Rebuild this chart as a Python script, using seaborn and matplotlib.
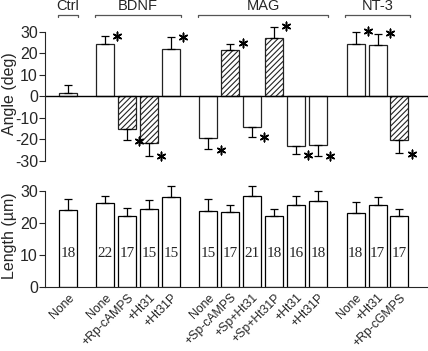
import numpy as np
import pandas as pd
import matplotlib
matplotlib.use("Agg")
import matplotlib.pyplot as plt
import seaborn as sns

groups = ["Ctrl", "BDNF", "MAG", "NT-3"]
group_sizes = [1, 4, 6, 3]
conditions = ["None",
              "None", "+Rp-cAMPS", "+Ht31", "+Ht31P",
              "None", "+Sp-cAMPS", "+Sp+Ht31", "+Sp+Ht31P", "+Ht31", "+Ht31P",
              "None", "+Ht31", "+Rp-cGMPS"]
angle = [1.7, 24.5, -15, -21.5, 22, -19.5, 21.5, -14, 27, -23, -22.5, 24.5, 24, -20.5]
angle_sem = [3.5, 3.5, 5.5, 6, 5.5, 5, 3, 4.7, 5.5, 4, 5, 5.5, 5, 6]
angle_sig = [0, 1, 1, 1, 1, 1, 1, 1, 1, 1, 1, 1, 1, 1]
hatched = [0, 0, 1, 1, 0, 0, 1, 0, 1, 0, 0, 0, 0, 1]
length = [24, 26.3, 22, 24.2, 28.2, 23.8, 23.3, 28.5, 22.2, 25.5, 26.8, 23.2, 25.5, 22]
length_sem = [3.3, 2.2, 2.7, 2.8, 3.2, 3.5, 2.2, 3, 2, 3, 3.2, 3.3, 2.4, 2.2]
n_cells = [18, 22, 17, 15, 15, 15, 17, 21, 18, 16, 18, 18, 17, 17]

sns.set_style("ticks")
plt.rcParams["font.family"] = ["Liberation Sans", "DejaVu Sans"]
plt.rcParams["axes.unicode_minus"] = False
plt.rcParams["hatch.color"] = "#444444"
plt.rcParams["hatch.linewidth"] = 0.8

# bar positions with a gap between groups
gap = 1.7
xpos = []
start = 0.0
for size in group_sizes:
    xpos.extend(start + np.arange(size))
    start += size - 1 + gap
xpos = np.array(xpos)
width = 0.82

df = pd.DataFrame({"x": xpos, "angle": angle, "length": length})

fig = plt.figure(figsize=(4.28, 3.51), dpi=100)
ax1 = fig.add_axes([0.105, 0.511, 0.895, 0.447])
ax2 = fig.add_axes([0.105, 0.1815, 0.895, 0.2935])

xlim = (-1.05, 16.4)

# ---- Angle panel
sns.barplot(data=df, x="x", y="angle", native_scale=True, width=width,
            color="white", edgecolor="black", linewidth=0.9, errorbar=None, ax=ax1)
for bar, h in zip(ax1.patches, hatched):
    if h:
        bar.set_hatch("//////")
    bar.set_edgecolor("#222222")
sign = np.sign(angle)
ax1.errorbar(xpos, angle, yerr=[np.where(sign < 0, angle_sem, 0), np.where(sign > 0, angle_sem, 0)],
             fmt="none", ecolor="black", elinewidth=0.9, capsize=3, capthick=0.9)
for x, v, e, s in zip(xpos, angle, angle_sem, angle_sig):
    if s:
        tip = v + np.sign(v) * e
        ax1.scatter(x + 0.55, tip + np.sign(v) * 0.3, marker=(6, 2, 0), s=38,
                    color="black", linewidths=1.1, clip_on=False, zorder=5)
ax1.axhline(0, color="black", lw=1)
ax1.set_xlim(xlim)
ax1.set_ylim(-35, 38)
ax1.set_yticks([-30, -20, -10, 0, 10, 20, 30])
ax1.set_ylabel("Angle (deg)", fontsize=11.5)
ax1.yaxis.set_label_coords(-0.074, 0.5)
ax1.set_xlabel("")
ax1.set_xticks([])
sns.despine(ax=ax1, bottom=True)
ax1.spines["left"].set_bounds(-30, 30)
ax1.tick_params(axis="y", labelsize=11.5, length=4, pad=1)

# group brackets
i = 0
for name, size in zip(groups, group_sizes):
    x0 = xpos[i] - width / 2 - 0.05
    x1 = xpos[i + size - 1] + width / 2 + 0.05
    ax1.plot([x0, x0, x1, x1], [36.8, 38, 38, 36.8], color="#555555", lw=0.9, clip_on=False)
    ax1.text((x0 + x1) / 2, 38.6, name, ha="center", va="bottom", fontsize=10.5, clip_on=False)
    i += size

# ---- Length panel
sns.barplot(data=df, x="x", y="length", native_scale=True, width=width,
            color="white", edgecolor="black", linewidth=0.9, errorbar=None, ax=ax2)
ax2.errorbar(xpos, length, yerr=[np.zeros(len(length)), length_sem],
             fmt="none", ecolor="black", elinewidth=0.9, capsize=3, capthick=0.9)
for x, n in zip(xpos, n_cells):
    ax2.text(x, 10.5, str(n), ha="center", va="center", fontsize=11,
             family=["Liberation Serif", "DejaVu Serif"])
ax2.set_xlim(xlim)
ax2.set_ylim(0, 32)
ax2.set_yticks([0, 10, 20, 30])
ax2.set_ylabel("Length (µm)", fontsize=11.5)
ax2.yaxis.set_label_coords(-0.074, 0.5)
ax2.set_xlabel("")
ax2.set_xticks(xpos)
ax2.set_xticklabels(conditions, rotation=45, ha="right", va="top",
                    rotation_mode="anchor", fontsize=8.8)
sns.despine(ax=ax2)
ax2.spines["left"].set_bounds(0, 30)
ax2.tick_params(axis="y", labelsize=11.5, length=4, pad=1)
ax2.tick_params(axis="x", length=0, pad=3)

fig.savefig("out.png", dpi=100)
